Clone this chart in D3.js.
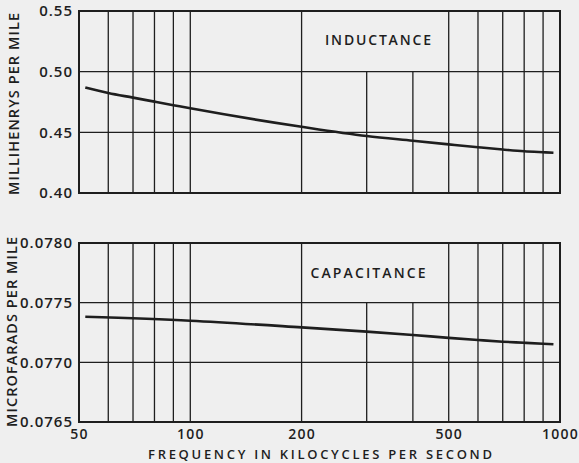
<!DOCTYPE html>
<html><head><meta charset="utf-8">
<script src="https://cdn.jsdelivr.net/npm/d3@7"></script>
<style>
html,body{margin:0;padding:0;background:#efefef;}
svg{display:block;font-family:"Open Sans",sans-serif;font-weight:600;}
</style></head>
<body><svg id="c" width="579" height="463"></svg>
<script>
// ---- data ----
const freqTicks = [50,60,70,80,90,100,200,300,400,500,600,700,800,900,1000];
const freqLabels = [50,100,200,500,1000];
const indFreq = [52,60,70,80,90,100,200,300,400,500,600,700,800,900,960];
const indVals = [0.487,0.4824,0.4786,0.4753,0.4724,0.4698,0.4546,0.4470,0.4431,0.4401,0.4377,0.4358,0.4344,0.4336,0.4332];
const capFreq = [52,100,200,300,400,500,600,700,800,900,960];
const capVals = [0.077382,0.077349,0.077293,0.077257,0.077229,0.077205,0.077187,0.077173,0.077164,0.077156,0.077151];
const indTicks = [0.40,0.45,0.50,0.55];
const capTicks = [0.0765,0.0770,0.0775,0.0780];

const svg = d3.select("#c");
const ink = "#1e1e1e";
const x = d3.scaleLog().domain([50,1000]).range([79,560]);

function panel(opt){
  const y = d3.scaleLinear().domain(opt.domain).range([opt.bottom,opt.top]);
  const g = svg.append("g");
  g.selectAll("line.h").data(opt.ticks.slice(1,-1)).join("line")
    .attr("x1",x(50)).attr("x2",x(1000)).attr("y1",d=>y(d)).attr("y2",d=>y(d))
    .attr("stroke",ink).attr("stroke-width",1.3);
  const upper = opt.ticks[opt.ticks.length-2];
  g.selectAll("line.v").data(freqTicks.slice(1,-1)).join("line")
    .attr("x1",d=>x(d)).attr("x2",d=>x(d))
    .attr("y1",d=>(d>200&&d<500)?y(upper):y(opt.domain[1]))
    .attr("y2",y(opt.domain[0]))
    .attr("stroke",ink).attr("stroke-width",1.3);
  g.append("rect").attr("x",x(50)).attr("y",opt.top).attr("width",x(1000)-x(50)).attr("height",opt.bottom-opt.top)
    .attr("fill","none").attr("stroke",ink).attr("stroke-width",2);
  const line = d3.line().curve(d3.curveMonotoneX).x(d=>x(d[0])).y(d=>y(d[1]));
  g.append("path").datum(opt.f.map((f,i)=>[f,opt.v[i]])).attr("d",line)
    .attr("fill","none").attr("stroke",ink).attr("stroke-width",2.6);
  const yAxis = d3.axisLeft(y).tickValues(opt.ticks).tickFormat(d3.format(opt.fmt)).tickSize(0).tickPadding(6);
  const ax = g.append("g").attr("transform",`translate(${x(50)},0)`).call(yAxis);
  ax.select(".domain").remove();
  ax.selectAll("text").attr("font-size",15).attr("fill",ink).attr("font-family","Open Sans")
    .attr("font-weight",600).attr("letter-spacing",1);
  g.append("text").attr("x",opt.lx).attr("y",opt.ly).attr("text-anchor","middle")
    .attr("font-size",14).attr("fill",ink).attr("textLength",opt.ll).attr("lengthAdjust","spacing").text(opt.label);
  g.append("text").attr("transform",`translate(${opt.tx},${opt.ty}) rotate(-90)`)
    .attr("text-anchor","middle").attr("font-size",14.5).attr("fill",ink)
    .attr("textLength",opt.tl).attr("lengthAdjust","spacing").text(opt.title);
  return y;
}

panel({domain:[0.40,0.55],top:11,bottom:193,ticks:indTicks,fmt:".2f",f:indFreq,v:indVals,
  label:"INDUCTANCE",lx:378,ly:45,ll:106,title:"MILLIHENRYS PER MILE",tx:19,ty:104,tl:182});
panel({domain:[0.0765,0.0780],top:243,bottom:422,ticks:capTicks,fmt:".4f",f:capFreq,v:capVals,
  label:"CAPACITANCE",lx:368,ly:278,ll:115,title:"MICROFARADS PER MILE",tx:17,ty:332,tl:190});

const xAxis = d3.axisBottom(x).tickValues(freqLabels).tickFormat(d3.format("d")).tickSize(0).tickPadding(7);
const xa = svg.append("g").attr("transform","translate(0,422)").call(xAxis);
xa.select(".domain").remove();
xa.selectAll("text").attr("font-size",14).attr("fill",ink).attr("font-family","Open Sans")
  .attr("font-weight",600).attr("letter-spacing",1.2);
svg.append("text").attr("x",320).attr("y",459).attr("text-anchor","middle")
  .attr("font-size",13).attr("fill",ink).attr("textLength",344).attr("lengthAdjust","spacing")
  .text("FREQUENCY IN KILOCYCLES PER SECOND");
</script></body></html>
